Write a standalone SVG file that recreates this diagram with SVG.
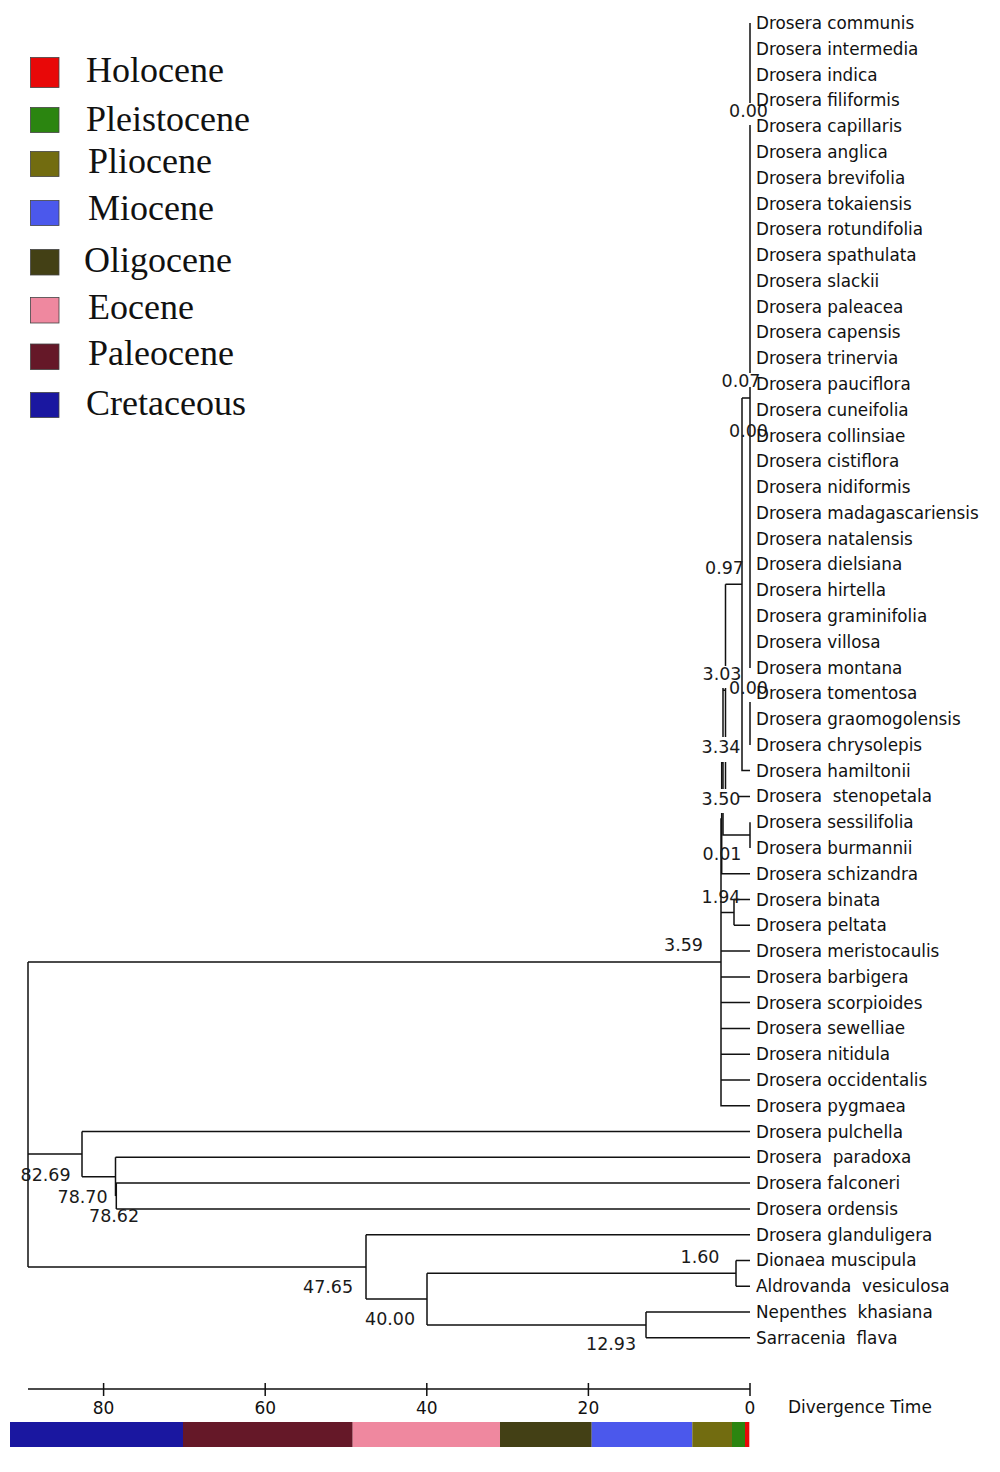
<svg xmlns="http://www.w3.org/2000/svg" width="1000" height="1472" viewBox="0 0 1000 1472">
<style>
.leaf{font-family:"DejaVu Sans",Verdana,sans-serif;font-size:16.8px;fill:#111;white-space:pre}
.nl{font-family:"DejaVu Sans",Verdana,sans-serif;font-size:17.5px;fill:#1a1a1a}
.ax{font-family:"DejaVu Sans",Verdana,sans-serif;font-size:17px;fill:#111}
.lg{font-family:"Liberation Serif","Times New Roman",serif;font-size:36px;fill:#111}
.br{fill:none;stroke:#111;stroke-width:1.5}
.sw{stroke:#444;stroke-width:0.8}
</style>
<rect width="1000" height="1472" fill="#fff"/>

<g id="legend">
<g id="lg-holocene"><rect class="sw" x="30.5" y="57.5" width="28.5" height="30" fill="#e80808"/><text class="lg" x="86" y="82">Holocene</text></g>
<g id="lg-pleistocene"><rect class="sw" x="30.5" y="107.5" width="28.5" height="25" fill="#2b8510"/><text class="lg" x="86" y="131">Pleistocene</text></g>
<g id="lg-pliocene"><rect class="sw" x="30.5" y="151.5" width="28.5" height="25" fill="#726c10"/><text class="lg" x="88" y="173">Pliocene</text></g>
<g id="lg-miocene"><rect class="sw" x="30.5" y="200.5" width="28.5" height="25" fill="#4b58ec"/><text class="lg" x="88" y="220">Miocene</text></g>
<g id="lg-oligocene"><rect class="sw" x="30.5" y="249.5" width="28.5" height="25.5" fill="#434015"/><text class="lg" x="84" y="272">Oligocene</text></g>
<g id="lg-eocene"><rect class="sw" x="30.5" y="297.5" width="28.5" height="25.5" fill="#ef889f"/><text class="lg" x="88" y="319">Eocene</text></g>
<g id="lg-paleocene"><rect class="sw" x="30.5" y="344" width="28.5" height="25.5" fill="#651828"/><text class="lg" x="88" y="365">Paleocene</text></g>
<g id="lg-cretaceous"><rect class="sw" x="30.5" y="392.5" width="28.5" height="25" fill="#1a17a0"/><text class="lg" x="86" y="415">Cretaceous</text></g>
</g>

<g id="connectors" class="br">
<path d="M750,23V103M750,125V373M750,387V668M750,702V745"/>
<path d="M742,398H750M742,398V770.6H750"/>
<path d="M725.5,584.3H742M725.5,584.3V666M725.5,688V737M725.5,762V789M738,796.4H750"/>
<path d="M723,690.3H725.5M723,688V737M723,762V789M723,813V835.1H750M750,822.2V848"/>
<path d="M721.7,762.7H723M721.7,762V789M721.7,813V873.7H750"/>
<path d="M721,818.2H721.7M721,818.2V1105.8H750"/>
<path d="M721,912.4H734M734,899.5V925.3M734,899.5H750M734,925.3H750"/>
<path d="M721,951.1H750M721,976.9H750M721,1002.6H750M721,1028.4H750M721,1054.2H750M721,1080H750"/>
<path d="M28,962H721M28,962V1266.9"/>
<path d="M28,1154.1H82M82,1131.5V1176.7M82,1131.5H750M82,1176.7H115.5M115.5,1157.3V1196M115.5,1157.3H750M115.5,1196H116.3M116.3,1183.1V1208.9M116.3,1183.1H750M116.3,1208.9H750"/>
<path d="M28,1266.9H366M366,1234.7V1299.1M366,1234.7H750M366,1299.1H427M427,1273.3V1324.9M427,1273.3H736M736,1260.4V1286.2M736,1260.4H750M736,1286.2H750M427,1324.9H646M646,1312V1337.8M646,1312H750M646,1337.8H750"/>
</g>

<g id="node-labels">
<g id="n-0.00a"><text class="nl" x="729" y="117">0.00</text></g>
<g id="n-0.07"><text class="nl" x="721.5" y="387">0.07</text></g>
<g id="n-0.00b"><text class="nl" x="729" y="436.5">0.00</text></g>
<g id="n-0.97"><text class="nl" x="705" y="573.5">0.97</text></g>
<g id="n-3.03"><text class="nl" x="702.5" y="680">3.03</text></g>
<g id="n-0.00c"><text class="nl" x="729" y="694">0.00</text></g>
<g id="n-3.34"><text class="nl" x="701.5" y="752.5">3.34</text></g>
<g id="n-3.50"><text class="nl" x="701.5" y="805">3.50</text></g>
<g id="n-0.01"><text class="nl" x="702.5" y="860">0.01</text></g>
<g id="n-1.94"><text class="nl" x="701.5" y="902.5">1.94</text></g>
<g id="n-3.59"><text class="nl" x="664" y="951">3.59</text></g>
<g id="n-82.69"><text class="nl" x="20.5" y="1181">82.69</text></g>
<g id="n-78.70"><text class="nl" x="57.5" y="1202.5">78.70</text></g>
<g id="n-78.62"><text class="nl" x="89" y="1221.5">78.62</text></g>
<g id="n-47.65"><text class="nl" x="303" y="1292.5">47.65</text></g>
<g id="n-40.00"><text class="nl" x="365" y="1325">40.00</text></g>
<g id="n-1.60"><text class="nl" x="680.5" y="1263">1.60</text></g>
<g id="n-12.93"><text class="nl" x="586" y="1350">12.93</text></g>
</g>

<g id="leaves">
<g id="t01"><text class="leaf" x="756" y="29">Drosera communis</text></g>
<g id="t02"><text class="leaf" x="756" y="54.8">Drosera intermedia</text></g>
<g id="t03"><text class="leaf" x="756" y="80.6">Drosera indica</text></g>
<g id="t04"><text class="leaf" x="756" y="106.3">Drosera filiformis</text></g>
<g id="t05"><text class="leaf" x="756" y="132.1">Drosera capillaris</text></g>
<g id="t06"><text class="leaf" x="756" y="157.9">Drosera anglica</text></g>
<g id="t07"><text class="leaf" x="756" y="183.7">Drosera brevifolia</text></g>
<g id="t08"><text class="leaf" x="756" y="209.5">Drosera tokaiensis</text></g>
<g id="t09"><text class="leaf" x="756" y="235.2">Drosera rotundifolia</text></g>
<g id="t10"><text class="leaf" x="756" y="261">Drosera spathulata</text></g>
<g id="t11"><text class="leaf" x="756" y="286.8">Drosera slackii</text></g>
<g id="t12"><text class="leaf" x="756" y="312.6">Drosera paleacea</text></g>
<g id="t13"><text class="leaf" x="756" y="338.4">Drosera capensis</text></g>
<g id="t14"><text class="leaf" x="756" y="364.1">Drosera trinervia</text></g>
<g id="t15"><text class="leaf" x="756" y="389.9">Drosera pauciflora</text></g>
<g id="t16"><text class="leaf" x="756" y="415.7">Drosera cuneifolia</text></g>
<g id="t17"><text class="leaf" x="756" y="441.5">Drosera collinsiae</text></g>
<g id="t18"><text class="leaf" x="756" y="467.3">Drosera cistiflora</text></g>
<g id="t19"><text class="leaf" x="756" y="493">Drosera nidiformis</text></g>
<g id="t20"><text class="leaf" x="756" y="518.8">Drosera madagascariensis</text></g>
<g id="t21"><text class="leaf" x="756" y="544.6">Drosera natalensis</text></g>
<g id="t22"><text class="leaf" x="756" y="570.4">Drosera dielsiana</text></g>
<g id="t23"><text class="leaf" x="756" y="596.2">Drosera hirtella</text></g>
<g id="t24"><text class="leaf" x="756" y="621.9">Drosera graminifolia</text></g>
<g id="t25"><text class="leaf" x="756" y="647.7">Drosera villosa</text></g>
<g id="t26"><text class="leaf" x="756" y="673.5">Drosera montana</text></g>
<g id="t27"><text class="leaf" x="756" y="699.3">Drosera tomentosa</text></g>
<g id="t28"><text class="leaf" x="756" y="725.1">Drosera graomogolensis</text></g>
<g id="t29"><text class="leaf" x="756" y="750.8">Drosera chrysolepis</text></g>
<g id="t30"><text class="leaf" x="756" y="776.6">Drosera hamiltonii</text></g>
<g id="t31"><text class="leaf" x="756" y="802.4">Drosera  stenopetala</text></g>
<g id="t32"><text class="leaf" x="756" y="828.2">Drosera sessilifolia</text></g>
<g id="t33"><text class="leaf" x="756" y="854">Drosera burmannii</text></g>
<g id="t34"><text class="leaf" x="756" y="879.7">Drosera schizandra</text></g>
<g id="t35"><text class="leaf" x="756" y="905.5">Drosera binata</text></g>
<g id="t36"><text class="leaf" x="756" y="931.3">Drosera peltata</text></g>
<g id="t37"><text class="leaf" x="756" y="957.1">Drosera meristocaulis</text></g>
<g id="t38"><text class="leaf" x="756" y="982.9">Drosera barbigera</text></g>
<g id="t39"><text class="leaf" x="756" y="1008.6">Drosera scorpioides</text></g>
<g id="t40"><text class="leaf" x="756" y="1034.4">Drosera sewelliae</text></g>
<g id="t41"><text class="leaf" x="756" y="1060.2">Drosera nitidula</text></g>
<g id="t42"><text class="leaf" x="756" y="1086">Drosera occidentalis</text></g>
<g id="t43"><text class="leaf" x="756" y="1111.8">Drosera pygmaea</text></g>
<g id="t44"><text class="leaf" x="756" y="1137.5">Drosera pulchella</text></g>
<g id="t45"><text class="leaf" x="756" y="1163.3">Drosera  paradoxa</text></g>
<g id="t46"><text class="leaf" x="756" y="1189.1">Drosera falconeri</text></g>
<g id="t47"><text class="leaf" x="756" y="1214.9">Drosera ordensis</text></g>
<g id="t48"><text class="leaf" x="756" y="1240.7">Drosera glanduligera</text></g>
<g id="t49"><text class="leaf" x="756" y="1266.4">Dionaea muscipula</text></g>
<g id="t50"><text class="leaf" x="756" y="1292.2">Aldrovanda  vesiculosa</text></g>
<g id="t51"><text class="leaf" x="756" y="1318">Nepenthes  khasiana</text></g>
<g id="t52"><text class="leaf" x="756" y="1343.8">Sarracenia  flava</text></g>
</g>

<g id="axis">
<path class="br" d="M28,1389H750M103.6,1383V1396M265.2,1383V1396M426.8,1383V1396M588.4,1383V1396M750,1383V1396"/>
<text class="ax" x="103.6" y="1414" text-anchor="middle">80</text>
<text class="ax" x="265.2" y="1414" text-anchor="middle">60</text>
<text class="ax" x="426.8" y="1414" text-anchor="middle">40</text>
<text class="ax" x="588.4" y="1414" text-anchor="middle">20</text>
<text class="ax" x="750" y="1414" text-anchor="middle">0</text>
<text class="ax" x="788" y="1413" font-size="16.5">Divergence Time</text>
</g>

<g id="timebar">
<rect x="10" y="1422" width="173" height="25" fill="#1a17a0"/>
<rect x="183" y="1422" width="169.7" height="25" fill="#651828"/>
<rect x="352.7" y="1422" width="147.3" height="25" fill="#ef889f"/>
<rect x="500" y="1422" width="91.7" height="25" fill="#434015"/>
<rect x="591.7" y="1422" width="100.6" height="25" fill="#4b58ec"/>
<rect x="692.3" y="1422" width="39.7" height="25" fill="#726c10"/>
<rect x="732" y="1422" width="13" height="25" fill="#2b8510"/>
<rect x="745" y="1422" width="4.3" height="25" fill="#e80808"/>
</g>
</svg>
